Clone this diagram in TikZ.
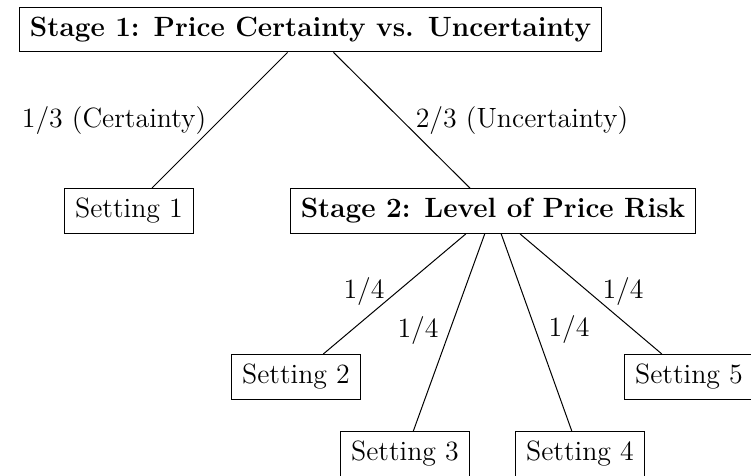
\documentclass[tikz,border=0pt]{standalone}
\begin{document}
\begin{tikzpicture}[x=0.4pt,y=-0.4pt,
  box/.style={draw, line width=0.5pt, inner xsep=4.2pt, inner ysep=3.9pt, font=\fontsize{11.15}{13.5}\selectfont},
  lbl/.style={inner sep=1pt, font=\fontsize{11.15}{13.5}\selectfont},
  edge/.style={line width=0.4pt}]
\useasboundingbox (0,0) rectangle (751,475);
\node[box] (top) at (310.5,29.5) {\bfseries Stage 1: Price Certainty vs. Uncertainty};
\node[box] (s1) at (129,211) {Setting 1};
\node[box] (st2) at (493,211) {\bfseries Stage 2: Level of Price Risk};
\node[box] (s2) at (296,377) {Setting 2};
\node[box] (s3) at (405,454) {Setting 3};
\node[box] (s4) at (580,454) {Setting 4};
\node[box] (s5) at (689,377) {Setting 5};
\draw[edge] (top) -- (s1);
\draw[edge] (top) -- (st2);
\draw[edge] (st2) -- (s2);
\draw[edge] (st2) -- (s3);
\draw[edge] (st2) -- (s4);
\draw[edge] (st2) -- (s5);
\node[lbl] (l1) at (114,121) {1/3 (Certainty)};
\node[lbl] (l2) at (522,121) {2/3 (Uncertainty)};
\node[lbl] (l3) at (364,292) {1/4};
\node[lbl] (l4) at (418,331) {1/4};
\node[lbl] (l5) at (569,330) {1/4};
\node[lbl] (l6) at (623,292) {1/4};
\end{tikzpicture}
\end{document}
